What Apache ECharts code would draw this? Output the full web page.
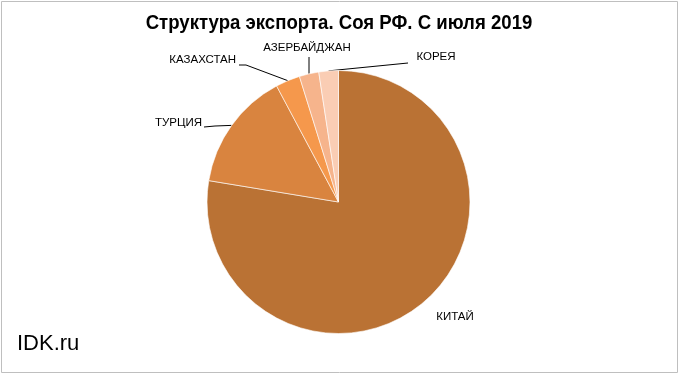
<!DOCTYPE html>
<html><head><meta charset="utf-8">
<script src="https://cdn.jsdelivr.net/npm/echarts@6/dist/echarts.min.js"></script>
<style>html,body{margin:0;padding:0;background:#fff}#c{width:680px;height:375px}</style>
</head><body><div id="c"></div>
<script>
const categories = ['КИТАЙ', 'ТУРЦИЯ', 'КАЗАХСТАН', 'АЗЕРБАЙДЖАН', 'КОРЕЯ'];
const shares = [77.6, 14.6, 3.0, 2.4, 2.4];
const colors = ['#BA7234', '#D9843F', '#F5984C', '#F6B48C', '#FACDB4'];
const title = 'Структура экспорта. Соя РФ. С июля 2019';
const watermark = 'IDK.ru';

// label placement (styling only)
const labelPlace = {
  'КИТАЙ': {x: 455, y: 317, align: 'center', line: null},
  'ТУРЦИЯ': {x: 202, y: 123, align: 'right', line: [[215, 126], [204, 127]]},
  'КАЗАХСТАН': {x: 236, y: 60, align: 'right', line: [[246, 65], [239, 65]]},
  'АЗЕРБАЙДЖАН': {x: 307, y: 48, align: 'center', line: [[309, 57]]},
  'КОРЕЯ': {x: 436, y: 57, align: 'center', line: [[408, 63]]}
};

const chart = echarts.init(document.getElementById('c'), null, {renderer: 'canvas'});
chart.setOption({
  animation: false,
  backgroundColor: '#fff',
  graphic: [
    {type: 'rect', shape: {x: 1.5, y: 1.5, width: 676, height: 371}, style: {fill: null, stroke: '#BFBFBF', lineWidth: 1}},
    {type: 'text', x: 339, y: 23, scaleX: 0.93, originX: 0, originY: 0,
     style: {text: title, font: 'bold 20px "Liberation Sans"', fill: '#000', align: 'center', verticalAlign: 'middle'}},
    {type: 'text', x: 17, y: 344,
     style: {text: watermark, font: '22px "Liberation Sans"', fill: '#000', align: 'left', verticalAlign: 'middle'}}
  ],
  series: [{
    type: 'pie',
    center: [338.5, 202],
    radius: [0, 131.5],
    startAngle: 90,
    clockwise: true,
    data: categories.map((n, i) => ({name: n, value: shares[i], itemStyle: {color: colors[i]}})),
    itemStyle: {borderColor: '#fff', borderWidth: 0.6},
    label: {show: true, position: 'outside', formatter: '{b}', fontFamily: 'Liberation Sans', fontSize: 11.5, color: '#000'},
    labelLine: {show: true, length: 10, length2: 10, smooth: false, lineStyle: {color: '#000', width: 1}},
    labelLayout: function (params) {
      const name = categories[params.dataIndex];
      const p = labelPlace[name];
      const out = {x: p.x, y: p.y, align: p.align, verticalAlign: 'middle'};
      if (p.line && params.labelLinePoints) {
        const start = params.labelLinePoints[0];
        const pts = [start].concat(p.line);
        while (pts.length < 3) pts.push(pts[pts.length - 1]);
        out.labelLinePoints = pts;
      } else if (params.labelLinePoints) {
        const s = params.labelLinePoints[0];
        out.labelLinePoints = [s, s, s];
      }
      return out;
    }
  }]
});
</script></body></html>
